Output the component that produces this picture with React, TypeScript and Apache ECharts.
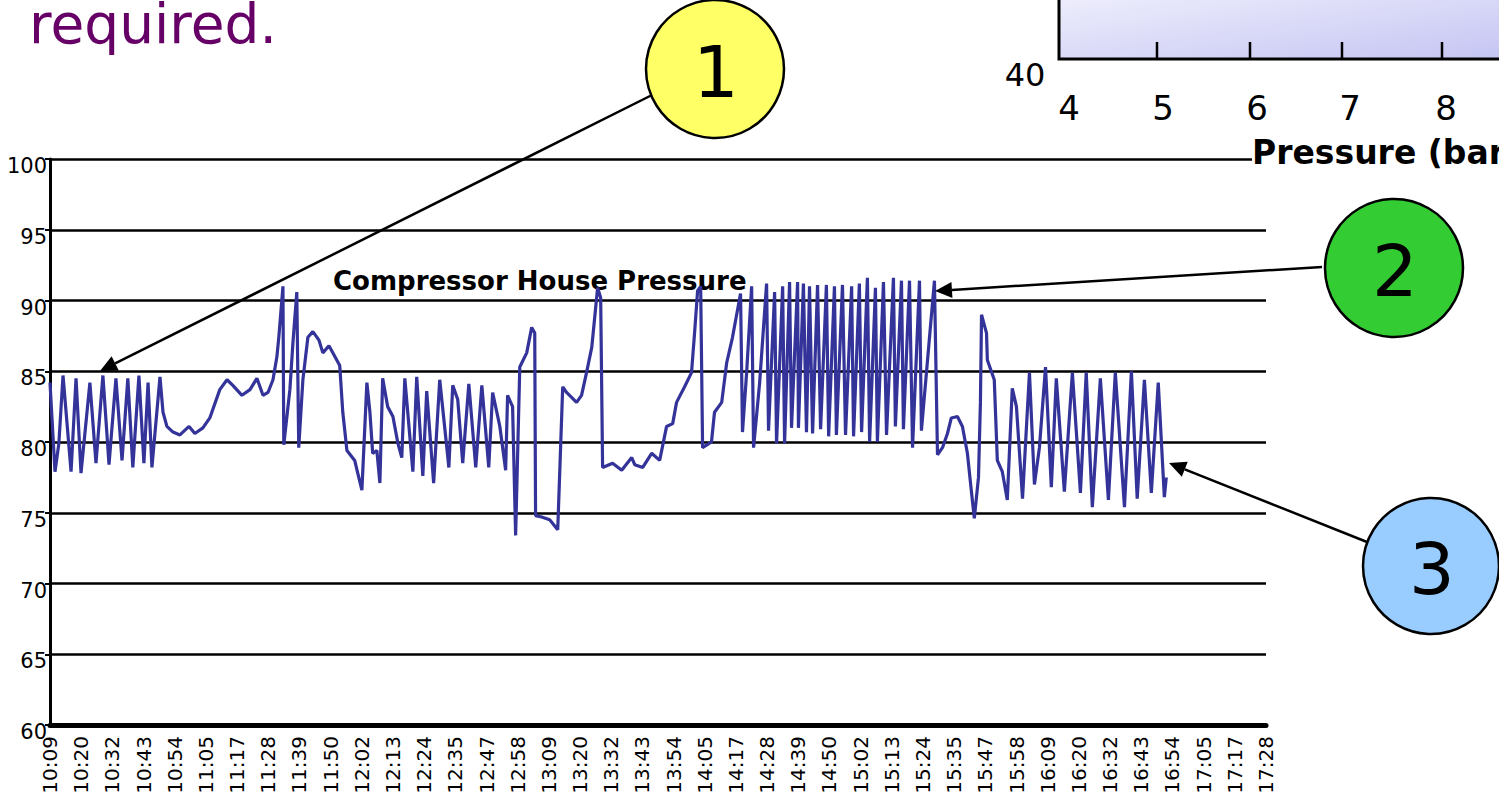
import React, { useEffect, useRef } from "react";
import * as echarts from "echarts";

// Tick labels of the time axis (category positions 0..39)
const tickLabels = [
  "10:09", "10:20", "10:32", "10:43", "10:54", "11:05", "11:17", "11:28", "11:39", "11:50",
  "12:02", "12:13", "12:24", "12:35", "12:47", "12:58", "13:09", "13:20", "13:32", "13:43",
  "13:54", "14:05", "14:17", "14:28", "14:39", "14:50", "15:02", "15:13", "15:24", "15:35",
  "15:47", "15:58", "16:09", "16:20", "16:32", "16:43", "16:54", "17:05", "17:17", "17:28",
];
const totalMinutes = 439; // 10:09 -> 17:28

// Minutes after 10:09 of each reading
const minutes = [
  0, 1.8, 3.2, 4.7, 7.6, 9.4, 11.2, 14.4, 16.6, 19.1, 21.3, 23.8, 26.0, 28.1, 29.9, 32.1, 33.9, 35.4, 36.8, 39.7,
  40.8, 42.2, 44.4, 46.9, 50.2, 52.3, 55.2, 57.7, 61.3, 63.9, 66.0, 69.3, 72.2, 74.7, 76.9, 78.7, 80.5, 81.9, 82.6, 84.1,
  84.4, 86.6, 87.7, 89.1, 89.8, 91.3, 93.1, 94.9, 97.1, 98.5, 100.7, 102.1, 104.6, 105.7, 107.2, 110.0, 111.1, 112.6, 114.4, 115.5,
  116.5, 118.0, 119.1, 120.1, 121.9, 123.8, 125.6, 127.0, 128.1, 131.0, 132.4, 134.6, 136.0, 138.5, 140.7, 144.0, 145.4, 147.2, 149.0, 151.2,
  153.7, 155.9, 158.4, 159.8, 162.4, 164.5, 165.2, 167.0, 168.1, 169.6, 172.1, 173.9, 175.0, 175.3, 177.5, 180.4, 183.3, 185.1, 186.5, 190.1,
  191.9, 193.7, 195.6, 197.7, 198.8, 199.5, 203.1, 206.4, 210.0, 211.1, 214.0, 217.2, 220.1, 222.6, 224.8, 226.2, 229.1, 231.6, 232.7, 233.8,
  234.9, 235.6, 238.8, 239.9, 242.5, 244.3, 246.4, 249.3, 250.0, 251.5, 253.3, 254.0, 256.2, 258.7, 259.4, 261.6, 262.3, 264.5, 265.2, 267.0,
  267.7, 269.9, 270.2, 272.0, 273.1, 274.2, 275.3, 277.1, 278.2, 280.3, 281.1, 283.2, 283.9, 286.1, 287.2, 289.4, 290.1, 292.2, 293.0, 295.1,
  295.9, 298.0, 298.7, 300.9, 302.0, 304.5, 305.2, 307.4, 308.1, 310.3, 311.4, 313.9, 314.6, 319.3, 320.4, 322.2, 324.0, 325.4, 327.6, 329.4,
  331.2, 332.7, 333.7, 335.2, 335.9, 336.3, 338.1, 338.4, 340.9, 342.0, 343.8, 345.6, 347.4, 348.9, 351.1, 353.6, 355.4, 357.2, 359.4, 361.5,
  363.3, 366.2, 369.1, 372.0, 374.1, 376.3, 379.2, 382.1, 384.6, 387.9, 390.4, 392.5, 395.1, 397.6, 400.1, 402.3, 403.0,
];

// Compressor house pressure readings
const pressure = [
  84.2, 77.9, 79.9, 84.7, 77.9, 84.5, 77.8, 84.2, 78.5, 84.7, 78.4, 84.5, 78.7, 84.5, 78.2, 84.7, 78.5, 84.2, 78.2, 84.6,
  82.1, 81.1, 80.7, 80.5, 81.1, 80.6, 81.0, 81.7, 83.7, 84.4, 84.0, 83.3, 83.7, 84.5, 83.3, 83.5, 84.4, 86.0, 87.4, 91.0,
  79.8, 83.7, 87.0, 90.6, 79.6, 84.4, 87.4, 87.8, 87.2, 86.3, 86.8, 86.3, 85.4, 82.1, 79.4, 78.7, 77.8, 76.6, 84.2, 82.1,
  79.2, 79.4, 77.1, 84.5, 82.5, 81.8, 79.9, 78.9, 84.5, 77.9, 84.6, 77.6, 83.6, 77.1, 84.4, 78.2, 84.0, 83.0, 78.5, 84.1,
  78.2, 84.0, 78.2, 83.5, 81.1, 78.0, 83.3, 82.5, 73.4, 85.3, 86.3, 88.1, 87.7, 74.8, 74.7, 74.5, 73.8, 83.9, 83.5, 82.8,
  83.3, 84.9, 86.7, 90.9, 90.2, 78.2, 78.5, 78.0, 78.9, 78.4, 78.2, 79.2, 78.7, 81.1, 81.3, 82.8, 83.9, 84.9, 87.7, 90.7,
  91.0, 79.6, 80.0, 82.1, 82.8, 85.6, 87.4, 90.5, 80.7, 84.9, 91.0, 79.6, 84.2, 91.2, 80.8, 90.6, 79.9, 91.0, 79.9, 91.3,
  81.0, 91.3, 81.0, 91.2, 80.7, 91.0, 80.6, 91.1, 80.9, 91.1, 80.4, 91.0, 80.5, 91.1, 80.5, 91.0, 80.4, 91.2, 80.7, 91.6,
  80.0, 90.9, 80.0, 91.3, 80.5, 91.6, 81.1, 91.4, 80.9, 91.4, 79.6, 91.4, 80.8, 91.4, 79.1, 79.6, 80.6, 81.7, 81.8, 81.1,
  79.2, 76.4, 74.6, 77.5, 82.8, 89.0, 87.7, 85.8, 84.4, 78.7, 77.9, 75.9, 83.8, 82.5, 76.0, 84.9, 77.0, 79.6, 85.3, 76.8,
  84.5, 76.5, 84.9, 76.4, 84.9, 75.4, 84.5, 75.9, 84.9, 75.4, 85.0, 76.0, 84.4, 76.4, 84.2, 76.1, 77.5,
];

const chartTitle = "Compressor House Pressure";
const headingText = "required.";
const insetXLabels = ["4", "5", "6", "7", "8"];
const insetYLabel = "40";
const insetAxisName = "Pressure (bar)";
const calloutLabels = ["1", "2", "3"];

const FONT = "DejaVu Sans";

function arrow(x1: number, y1: number, x2: number, y2: number) {
  const dx = x2 - x1;
  const dy = y2 - y1;
  const len = Math.sqrt(dx * dx + dy * dy);
  const ux = dx / len;
  const uy = dy / len;
  const L = 17;
  const W = 8;
  const bx = x2 - ux * L;
  const by = y2 - uy * L;
  return [
    {
      type: "line",
      shape: { x1, y1, x2: bx, y2: by },
      style: { stroke: "#000", lineWidth: 2.5 },
      z: 20,
    },
    {
      type: "polygon",
      shape: {
        points: [
          [x2, y2],
          [bx - uy * W, by + ux * W],
          [bx + uy * W, by - ux * W],
        ],
      },
      style: { fill: "#000" },
      z: 20,
    },
  ];
}

export default function App() {
  const ref = useRef<HTMLDivElement>(null);

  useEffect(() => {
    if (!ref.current) return;
    const chart = echarts.init(ref.current, undefined, { renderer: "svg" });
    const step = totalMinutes / (tickLabels.length - 1);
    const seriesData = minutes.map((m, i) => [m / step, pressure[i]]);

    const insetTickX = [1157, 1250, 1342, 1442];
    const insetLabelX = [1069, 1163, 1257, 1350, 1446];

    const circles = [
      { cx: 715, cy: 69, r: 69, fill: "#ffff66", tx: 716, ty: 72 },
      { cx: 1394, cy: 268, r: 69, fill: "#33cc33", tx: 1395, ty: 271 },
      { cx: 1431, cy: 566, r: 68, fill: "#99ccff", tx: 1432, ty: 569 },
    ];

    const graphics: any[] = [
      // heading fragment
      {
        type: "text",
        x: 29,
        y: 24,
        style: {
          text: headingText,
          fontFamily: FONT,
          fontSize: 55,
          fill: "#660066",
          align: "left",
          verticalAlign: "middle",
        },
        z: 10,
      },
      // inset chart panel
      {
        type: "rect",
        shape: { x: 1059, y: -10, width: 460, height: 69 },
        style: {
          fill: new echarts.graphic.LinearGradient(0, 0, 1, 1, [
            { offset: 0, color: "#f0f0fd" },
            { offset: 1, color: "#c4c4f3" },
          ]),
        },
        z: 5,
      },
      {
        type: "polyline",
        shape: { points: [[1059, -5], [1059, 59], [1510, 59]] },
        style: { stroke: "#000", lineWidth: 3, fill: null },
        z: 6,
      },
      ...insetTickX.map((x) => ({
        type: "line",
        shape: { x1: x, y1: 42, x2: x, y2: 59 },
        style: { stroke: "#000", lineWidth: 2.5 },
        z: 6,
      })),
      ...insetXLabels.map((t, i) => ({
        type: "text",
        x: insetLabelX[i],
        y: 108,
        style: {
          text: t,
          fontFamily: FONT,
          fontSize: 34,
          fill: "#000",
          align: "center",
          verticalAlign: "middle",
        },
        z: 6,
      })),
      {
        type: "text",
        x: 1025,
        y: 75,
        style: {
          text: insetYLabel,
          fontFamily: FONT,
          fontSize: 32,
          fill: "#000",
          align: "center",
          verticalAlign: "middle",
        },
        z: 6,
      },
      {
        type: "text",
        x: 1252,
        y: 152,
        style: {
          text: insetAxisName,
          fontFamily: FONT,
          fontSize: 33,
          fontWeight: "bold",
          fill: "#000",
          backgroundColor: "#fff",
          align: "left",
          verticalAlign: "middle",
        },
        z: 6,
      },
      // chart title
      {
        type: "text",
        x: 333,
        y: 281,
        style: {
          text: chartTitle,
          fontFamily: FONT,
          fontSize: 26,
          fontWeight: "bold",
          fill: "#000",
          align: "left",
          verticalAlign: "middle",
        },
        z: 1,
      },
      ...arrow(652, 95, 100, 371),
      ...arrow(1322, 267, 935, 291),
      ...arrow(1367, 542, 1169, 463),
      ...circles.flatMap((c, i) => [
        {
          type: "circle",
          shape: { cx: c.cx, cy: c.cy, r: c.r },
          style: { fill: c.fill, stroke: "#000", lineWidth: 2.5 },
          z: 30,
        },
        {
          type: "text",
          x: c.tx,
          y: c.ty,
          style: {
            text: calloutLabels[i],
            fontFamily: FONT,
            fontSize: 72,
            fill: "#000",
            align: "center",
            verticalAlign: "middle",
          },
          z: 31,
        },
      ]),
    ];

    chart.setOption({
      animation: false,
      backgroundColor: "#fff",
      grid: { left: 50, top: 159, right: 233, bottom: 82, containLabel: false },
      xAxis: {
        type: "value",
        min: 0,
        max: tickLabels.length - 1,
        interval: 1,
        axisLine: { show: true, onZero: false, lineStyle: { color: "#000", width: 5 } },
        axisTick: { show: false },
        splitLine: { show: false },
        axisLabel: {
          rotate: 90,
          margin: 11,
          fontFamily: FONT,
          fontSize: 20,
          color: "#000",
          formatter: (v: number) => tickLabels[Math.round(v)] ?? "",
        },
      },
      yAxis: {
        type: "value",
        min: 60,
        max: 100,
        interval: 5,
        axisLine: { show: true, lineStyle: { color: "#000", width: 3 } },
        axisTick: { show: true, length: 5, lineStyle: { color: "#000", width: 2 } },
        splitLine: { show: true, lineStyle: { color: "#000", width: 2.5 } },
        axisLabel: {
          margin: 3,
          fontFamily: FONT,
          fontSize: 21,
          color: "#000",
          verticalAlign: "top",
          lineHeight: 14,
        },
      },
      series: [
        {
          type: "line",
          data: seriesData,
          showSymbol: false,
          symbol: "none",
          lineStyle: { color: "#333399", width: 3.2 },
          z: 3,
        },
      ],
      graphic: graphics,
    });

    return () => chart.dispose();
  }, []);

  return (
    <div
      ref={ref}
      style={{ position: "absolute", left: 0, top: 0, width: 1499, height: 807, background: "#fff" }}
    />
  );
}
